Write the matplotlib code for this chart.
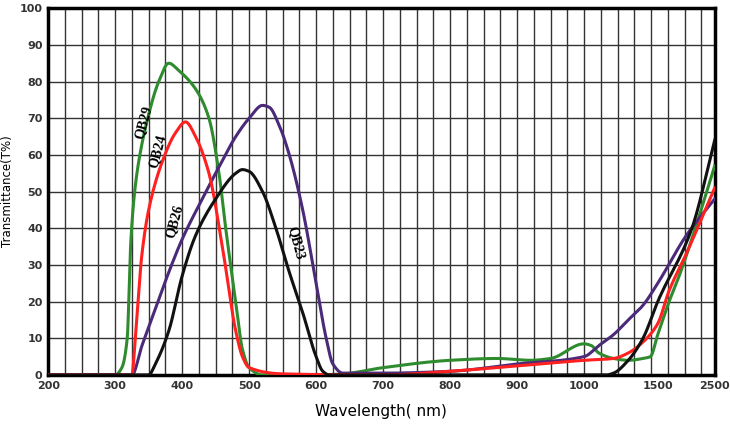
import numpy as np
import matplotlib
matplotlib.use("Agg")
import matplotlib.pyplot as plt
from matplotlib.scale import FuncScale

nm_knots = [200, 1000, 1500, 2500]
pos_knots = [0, 8, 9.1, 9.95]
fwd = lambda x: np.interp(x, nm_knots, pos_knots)
inv = lambda p: np.interp(p, pos_knots, nm_knots)

qb29_x = [200, 300, 310, 318, 323, 328, 335, 350, 365, 380, 395, 420, 440, 455, 465, 480, 490, 500, 520, 600, 640, 700, 800, 870, 920, 950, 1000, 1050, 1100, 1200, 1300, 1400, 1450, 1500, 1700, 1900, 2200, 2500]
qb29_y = [0, 0, 2, 10, 35, 48, 58, 71, 80, 85, 83, 78, 70, 55, 40, 20, 7, 2, 0, 0, 0.3, 2, 4, 4.5, 4, 4.5, 8.5, 8, 6, 4.5, 4, 4.5, 5, 11, 20, 28, 42, 57]
qb24_x = [200, 325, 330, 340, 350, 370, 390, 405, 420, 440, 460, 480, 490, 500, 550, 700, 800, 900, 1000, 1200, 1300, 1400, 1500, 1700, 2000, 2500]
qb24_y = [0, 0, 10, 33, 45, 58, 66, 69, 65, 55, 35, 12, 5, 2, 0.3, 0, 1, 2.5, 4, 4.5, 6, 9, 14, 23, 33, 51]
qb26_x = [200, 325, 340, 360, 380, 400, 430, 450, 480, 500, 520, 530, 545, 560, 580, 600, 615, 625, 640, 700, 800, 900, 1000, 1100, 1200, 1300, 1400, 1500, 2000, 2500]
qb26_y = [0, 0, 8, 18, 28, 37, 48, 55, 65, 70, 73.5, 73, 68, 60, 45, 25, 10, 3, 0.5, 0.5, 1, 3, 5, 8, 11, 15, 19, 25, 38, 48]
qb23_x = [200, 350, 360, 380, 400, 420, 450, 480, 490, 500, 520, 540, 560, 580, 600, 610, 620, 1150, 1200, 1300, 1400, 1500, 2100, 2500]
qb23_y = [0, 0, 3, 12, 27, 38, 48, 55, 56, 55.5, 50, 40, 28, 17, 5, 1, 0, 0, 0.5, 4, 10, 20, 40, 64]

major_ticks = [200, 300, 400, 500, 600, 700, 800, 900, 1000, 1500, 2500]
y_ticks = list(range(0, 101, 10))

def pchip(xs, ys, n=15):
    x = fwd(np.array(xs, float)); y = np.array(ys, float)
    h = np.diff(x); d = np.diff(y) / h
    m = np.zeros_like(y)
    for k in range(1, len(x) - 1):
        if d[k-1] * d[k] > 0:
            w1 = 2*h[k] + h[k-1]; w2 = h[k] + 2*h[k-1]
            m[k] = (w1 + w2) / (w1/d[k-1] + w2/d[k])
    m[0] = d[0]; m[-1] = d[-1]
    op, oy = [], []
    for k in range(len(x) - 1):
        t = np.linspace(0, 1, n, endpoint=False)
        h00 = 2*t**3 - 3*t**2 + 1; h10 = t**3 - 2*t**2 + t
        h01 = -2*t**3 + 3*t**2; h11 = t**3 - t**2
        op.extend(x[k] + t*h[k])
        oy.extend(h00*y[k] + h10*h[k]*m[k] + h01*y[k+1] + h11*h[k]*m[k+1])
    op.append(x[-1]); oy.append(y[-1])
    return inv(np.array(op)), np.array(oy)

fig = plt.figure(figsize=(7.3, 4.32), dpi=100)
ax = fig.add_axes([0.066, 0.132, 0.913, 0.849])
ax.set_xscale(FuncScale(ax, (fwd, inv)))
ax.set_xlim(200, 2500)
ax.set_ylim(0, 100)

for p in np.arange(0.25, 9.9, 0.25):
    ax.axvline(inv(p), color='#333333', lw=1.0, zorder=1)
for yv in y_ticks:
    ax.axhline(yv, color='#333333', lw=1.0, zorder=1)

for xs, ys, c in [(qb29_x, qb29_y, '#2e8b2e'), (qb26_x, qb26_y, '#4b2a7a'), (qb24_x, qb24_y, '#ff2020'), (qb23_x, qb23_y, '#111111')]:
    sx, sy = pchip(xs, ys)
    ax.plot(sx, sy, color=c, lw=2.2, zorder=3)

lab = dict(fontfamily='Liberation Serif', fontweight='bold', fontsize=10, ha='center', va='center', zorder=4)
ax.text(342, 69, 'QB29', rotation=75, **lab)
ax.text(364, 61, 'QB24', rotation=75, **lab)
ax.text(388, 42, 'QB26', rotation=75, **lab)
ax.text(570, 36, 'QB23', rotation=-75, **lab)

ax.set_xticks(major_ticks)
ax.set_xticklabels([str(t) for t in major_ticks], fontsize=8, fontweight='bold', color='#333333')
ax.set_yticks(y_ticks)
ax.set_yticklabels([str(t) for t in y_ticks], fontsize=8, fontweight='bold', color='#333333')
ax.tick_params(length=0, pad=4)
for s in ax.spines.values():
    s.set_linewidth(2.5)
ax.set_xlabel('Wavelength( nm)', fontsize=11, labelpad=10)
ax.set_ylabel('Transmittance(T%)', fontsize=8.5, labelpad=4)
fig.savefig('out.png', dpi=100)
